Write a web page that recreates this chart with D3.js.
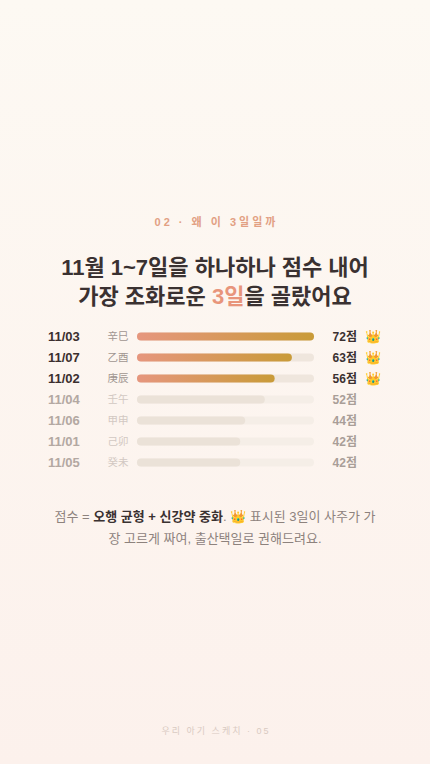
<!DOCTYPE html>
<html>
<head>
<meta charset="utf-8">
<script src="https://cdn.jsdelivr.net/npm/d3@7"></script>
<style>
  html, body { margin: 0; padding: 0; }
  body { width: 430px; height: 764px; overflow: hidden; }
  svg { display: block; }
  text { font-family: "Liberation Sans", "Noto Sans CJK KR", sans-serif; }
</style>
</head>
<body>
<svg id="chart"></svg>
<script>
// days ranked by score
const dates = ["11/03", "11/07", "11/02", "11/04", "11/06", "11/01", "11/05"];
const ganji = ["辛巳", "乙酉", "庚辰", "壬午", "甲申", "己卯", "癸未"];
const scores = [72, 63, 56, 52, 44, 42, 42];
const picked = [true, true, true, false, false, false, false];

const W = 430, H = 764;

const svg = d3.select("#chart")
    .attr("width", W)
    .attr("height", H);

// background
const defs = svg.append("defs");
const bg = defs.append("linearGradient")
    .attr("id", "bg")
    .attr("x1", 0).attr("y1", 0).attr("x2", 0).attr("y2", 1);
bg.append("stop").attr("offset", "0%").attr("stop-color", "#fdf9f3");
bg.append("stop").attr("offset", "100%").attr("stop-color", "#fcf1ec");

const barGrad = defs.append("linearGradient")
    .attr("id", "barGrad")
    .attr("x1", 0).attr("y1", 0).attr("x2", 1).attr("y2", 0);
barGrad.append("stop").attr("offset", "0%").attr("stop-color", "#e6967e");
barGrad.append("stop").attr("offset", "100%").attr("stop-color", "#c99b38");

svg.append("rect")
    .attr("width", W).attr("height", H)
    .attr("fill", "url(#bg)");

// kicker
svg.append("text")
    .attr("x", W / 2 + 1.5).attr("y", 225.5)
    .attr("text-anchor", "middle")
    .style("font-size", "11px")
    .style("font-weight", "bold")
    .style("letter-spacing", "3px")
    .attr("fill", "#e2a083")
    .text("02 · 왜 이 3일일까");

// title
const title = svg.append("g")
    .style("font-size", "22px")
    .style("font-weight", "bold")
    .attr("fill", "#3a3131")
    .attr("text-anchor", "middle");
title.append("text")
    .attr("x", W / 2).attr("y", 274.5)
    .text("11월 1~7일을 하나하나 점수 내어");
const t2 = title.append("text")
    .attr("x", W / 2).attr("y", 303.5);
t2.append("tspan").text("가장 조화로운 ");
t2.append("tspan").attr("fill", "#e8957b").text("3일");
t2.append("tspan").text("을 골랐어요");

// bars
const x = d3.scaleLinear()
    .domain([0, d3.max(scores)])
    .range([137, 314]);

const y = d3.scaleBand()
    .domain(dates)
    .range([326, 473])
    .paddingInner(0);

const barH = 8;
const rows = svg.selectAll("g.row")
    .data(dates.map((d, i) => ({date: d, ganji: ganji[i], score: scores[i], top: picked[i]})))
    .join("g")
    .attr("class", "row")
    .attr("transform", d => "translate(0," + (y(d.date) + y.bandwidth() / 2) + ")");

rows.append("text")
    .attr("x", 48).attr("y", 0).attr("dy", "0.36em")
    .style("font-size", "13px")
    .style("font-weight", "bold")
    .attr("fill", d => d.top ? "#3b2f2f" : "#b3a8a2")
    .text(d => d.date);

rows.append("text")
    .attr("x", 107.5).attr("y", 0).attr("dy", "0.36em")
    .style("font-size", "10.5px")
    .attr("fill", d => d.top ? "#a09590" : "#d2c8c2")
    .text(d => d.ganji);

rows.append("rect")
    .attr("x", x(0)).attr("y", -barH / 2)
    .attr("width", x.range()[1] - x(0)).attr("height", barH)
    .attr("rx", barH / 2)
    .attr("fill", d => d.top ? "#efe6dd" : "#f5eee7");

rows.append("rect")
    .attr("x", x(0)).attr("y", -barH / 2)
    .attr("width", d => x(d.score) - x(0)).attr("height", barH)
    .attr("rx", barH / 2)
    .attr("fill", d => d.top ? "url(#barGrad)" : "#ebe2d8");

rows.append("text")
    .attr("x", 357).attr("y", 0).attr("dy", "0.36em")
    .attr("text-anchor", "end")
    .style("font-size", "12px")
    .style("font-weight", "bold")
    .attr("fill", d => d.top ? "#3b3131" : "#a99e98")
    .text(d => d.score + "점");

rows.filter(d => d.top).append("text")
    .attr("x", 373).attr("y", 0).attr("dy", "0.36em")
    .attr("text-anchor", "middle")
    .style("font-size", "13px")
    .text("👑");

// note
const note = svg.append("g")
    .style("font-size", "13px")
    .attr("fill", "#8d827d")
    .attr("text-anchor", "middle");
const n1 = note.append("text").attr("x", W / 2).attr("y", 520.5);
n1.append("tspan").text("점수 = ");
n1.append("tspan").attr("fill", "#3a3131").style("font-weight", "bold").text("오행 균형 + 신강약 중화");
n1.append("tspan").text(". 👑 표시된 3일이 사주가 가");
note.append("text").attr("x", W / 2).attr("y", 542.5)
    .text("장 고르게 짜여, 출산택일로 권해드려요.");

// footer
svg.append("text")
    .attr("x", W / 2 + 1).attr("y", 734)
    .attr("text-anchor", "middle")
    .style("font-size", "9px")
    .style("letter-spacing", "2px")
    .attr("fill", "#d9cac2")
    .text("우리 아기 스케치 · 05");
</script>
</body>
</html>
